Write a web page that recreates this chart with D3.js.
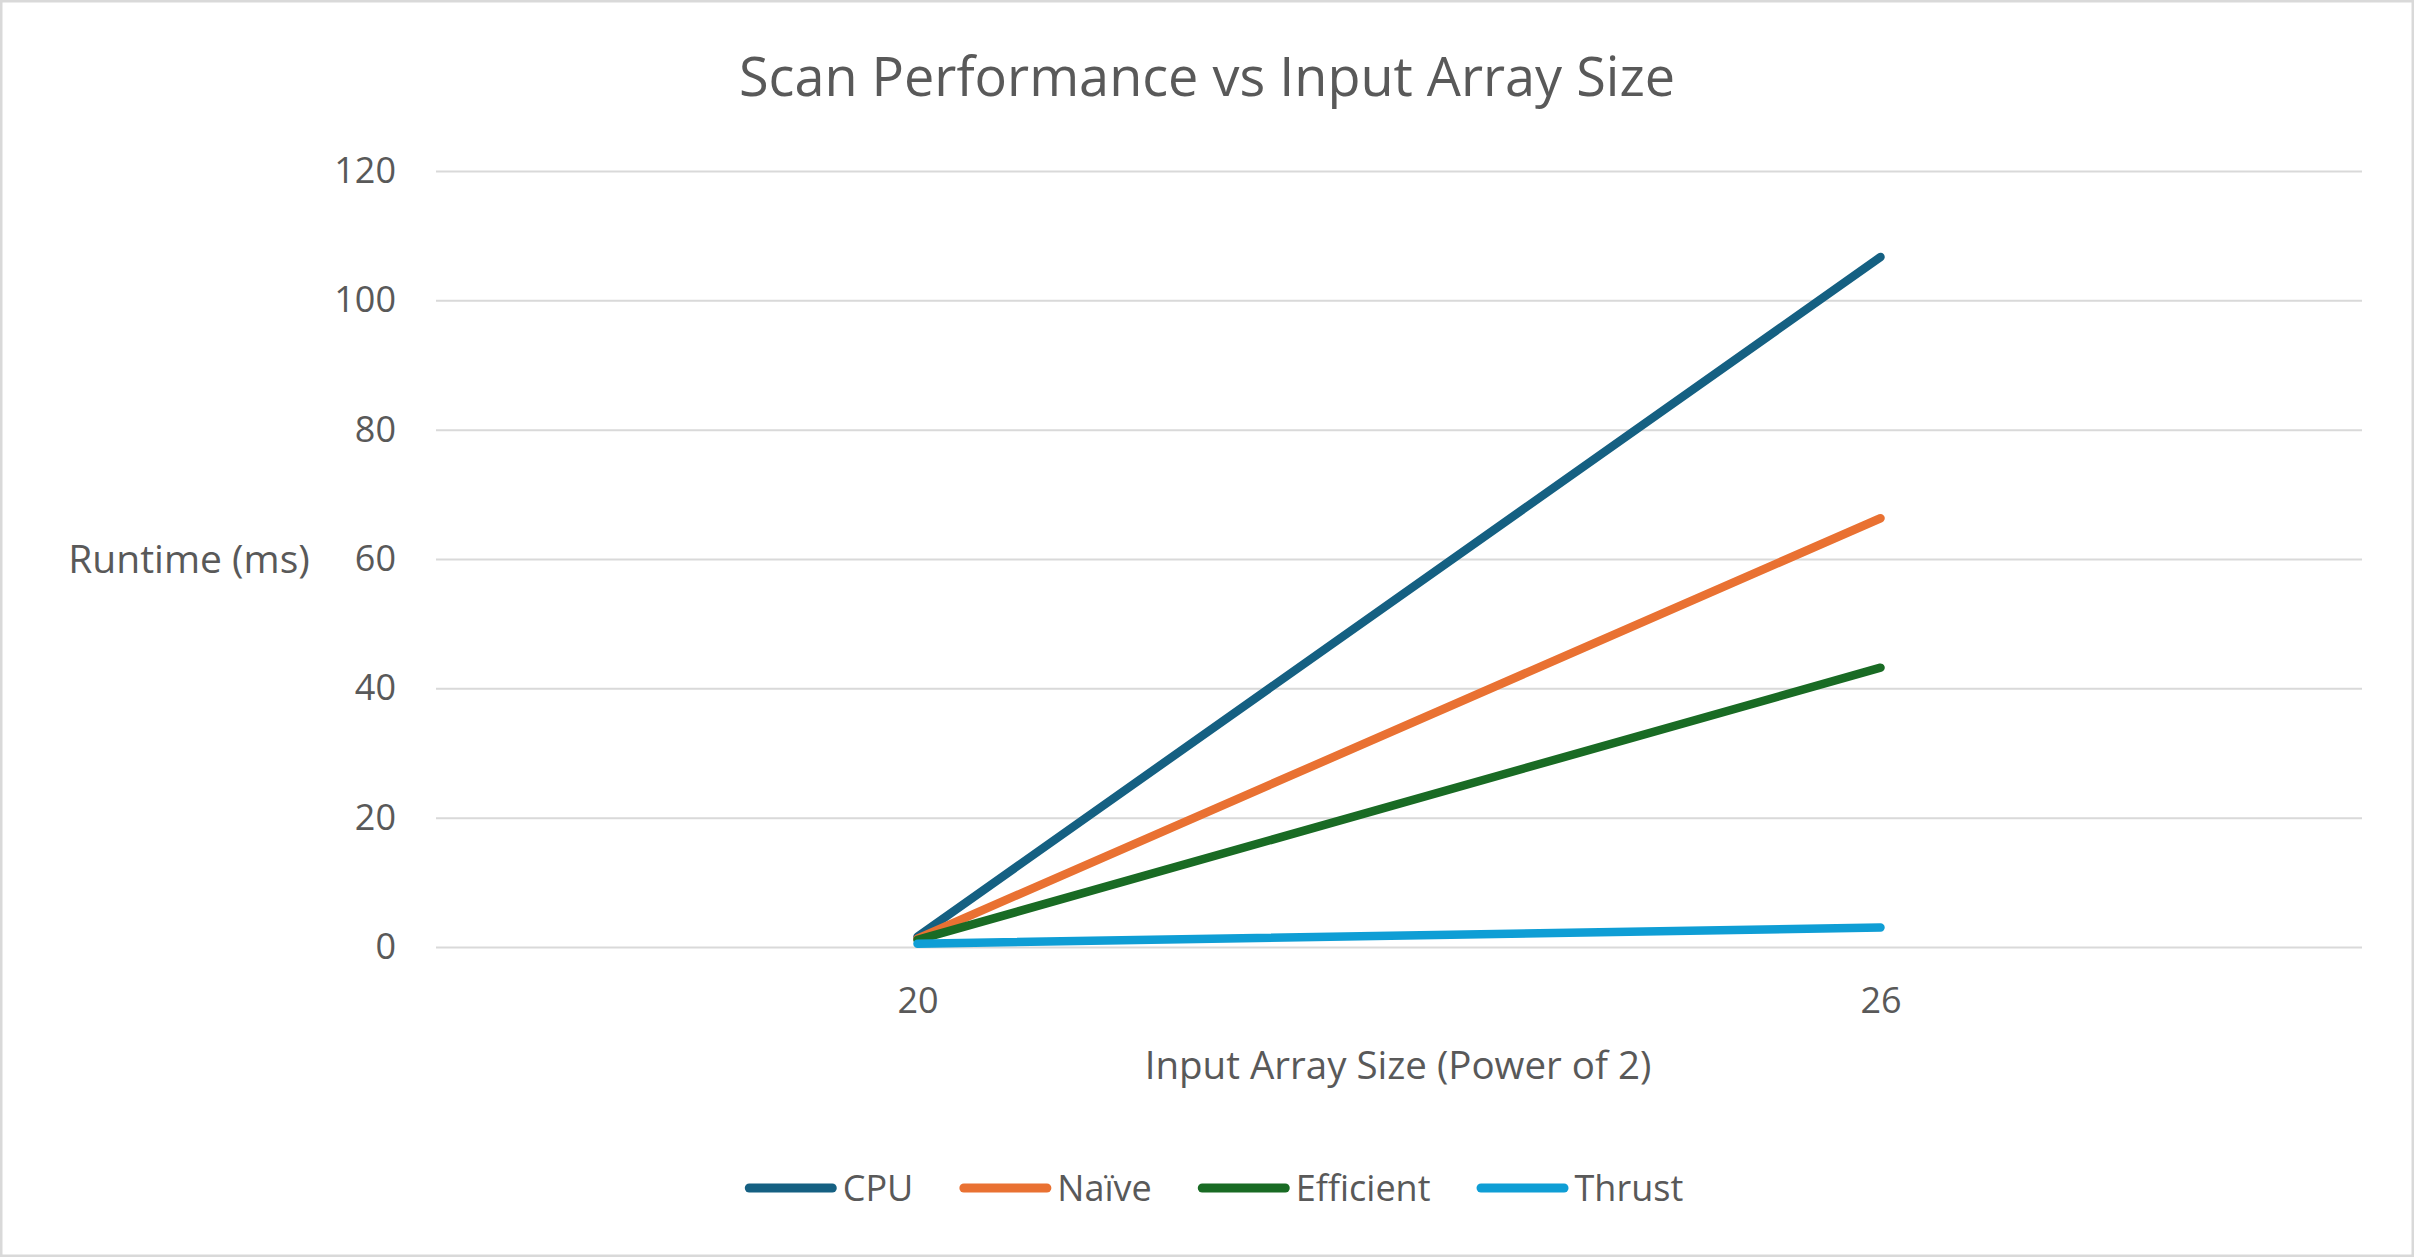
<!DOCTYPE html>
<html>
<head>
<meta charset="utf-8">
<script src="https://cdn.jsdelivr.net/npm/d3@7"></script>
<style>
  html, body { margin: 0; padding: 0; background: #fff; }
  svg { display: block; }
  text { font-family: "Open Sans", "DejaVu Sans", sans-serif; fill: #595959; }
</style>
</head>
<body>
<svg id="chart"></svg>
<script>
// ===== Scan Performance vs Input Array Size =====

const categories = ["20", "26"];
const seriesNames = ["CPU", "Naïve", "Efficient", "Thrust"];
const cpuValues = [1.6, 106.7];
const naiveValues = [1.3, 66.3];
const efficientValues = [1.1, 43.2];
const thrustValues = [0.5, 3.0];
const yTicks = [0, 20, 40, 60, 80, 100, 120];

const colors = ["#156082", "#E97132", "#196B24", "#0F9ED5"];
const series = [cpuValues, naiveValues, efficientValues, thrustValues].map((values, i) => ({
    name: seriesNames[i],
    color: colors[i],
    values: values
}));

const width = 2414;
const height = 1257;
const margin = { top: 171, right: 52, bottom: 310, left: 436 };

const svg = d3.select("#chart")
    .attr("width", width)
    .attr("height", height);

// chart frame
svg.append("rect")
    .attr("x", 1).attr("y", 1)
    .attr("width", width - 2).attr("height", height - 2)
    .attr("fill", "#fff")
    .attr("stroke", "#d9d9d9")
    .attr("stroke-width", 3);

const x = d3.scalePoint()
    .domain(categories)
    .range([margin.left, width - margin.right])
    .padding(0.5);

const y = d3.scaleLinear()
    .domain([0, 120])
    .range([height - margin.bottom, margin.top]);

// y axis + gridlines
const yAxis = svg.append("g")
    .attr("transform", `translate(${margin.left},0)`)
    .call(d3.axisLeft(y)
        .tickValues(yTicks)
        .tickSize(-(width - margin.left - margin.right))
        .tickPadding(40));
yAxis.select(".domain").remove();
yAxis.selectAll(".tick line")
    .attr("stroke", "#d9d9d9")
    .attr("stroke-width", 2);
yAxis.selectAll(".tick text")
    .attr("fill", "#595959")
    .style("font-size", "36px");

// x axis labels
const xAxis = svg.append("g")
    .attr("transform", `translate(0,${height - margin.bottom})`)
    .call(d3.axisBottom(x).tickSize(0));
xAxis.select(".domain").remove();
xAxis.selectAll(".tick text")
    .attr("fill", "#595959")
    .attr("y", 53)
    .attr("dy", "0.35em")
    .style("font-size", "36px");

// lines
const line = d3.line()
    .x((d, i) => x(categories[i]))
    .y(d => y(d));

svg.append("g")
    .selectAll("path")
    .data(series)
    .join("path")
    .attr("d", d => line(d.values))
    .attr("fill", "none")
    .attr("stroke", d => d.color)
    .attr("stroke-width", 8.5)
    .attr("stroke-linecap", "round")
    .attr("stroke-linejoin", "round");

// titles
svg.append("text")
    .attr("x", width / 2)
    .attr("y", 77)
    .attr("text-anchor", "middle")
    .attr("dy", "0.35em")
    .style("font-size", "54px")
    .text("Scan Performance vs Input Array Size");

svg.append("text")
    .attr("x", 189)
    .attr("y", y(60))
    .attr("text-anchor", "middle")
    .attr("dy", "0.35em")
    .style("font-size", "39px")
    .text("Runtime (ms)");

svg.append("text")
    .attr("x", 1398)
    .attr("y", 1066)
    .attr("text-anchor", "middle")
    .attr("dy", "0.35em")
    .style("font-size", "38.5px")
    .text("Input Array Size (Power of 2)");

// legend
const legend = svg.append("g");
const legendY = 1188;
const swatch = 92;
let cursor = 0;
series.forEach(s => {
    const item = legend.append("g").attr("transform", `translate(${cursor},0)`);
    item.append("line")
        .attr("x1", 4.5).attr("x2", swatch - 4.5)
        .attr("y1", legendY).attr("y2", legendY)
        .attr("stroke", s.color)
        .attr("stroke-width", 9)
        .attr("stroke-linecap", "round");
    const label = item.append("text")
        .attr("x", swatch + 6)
        .attr("y", legendY)
        .attr("dy", "0.35em")
        .style("font-size", "36px")
        .text(s.name);
    cursor += swatch + 6 + label.node().getComputedTextLength() + 46;
});
const legendWidth = cursor - 46;
legend.attr("transform", `translate(${1214 - legendWidth / 2},0)`);
</script>
</body>
</html>
